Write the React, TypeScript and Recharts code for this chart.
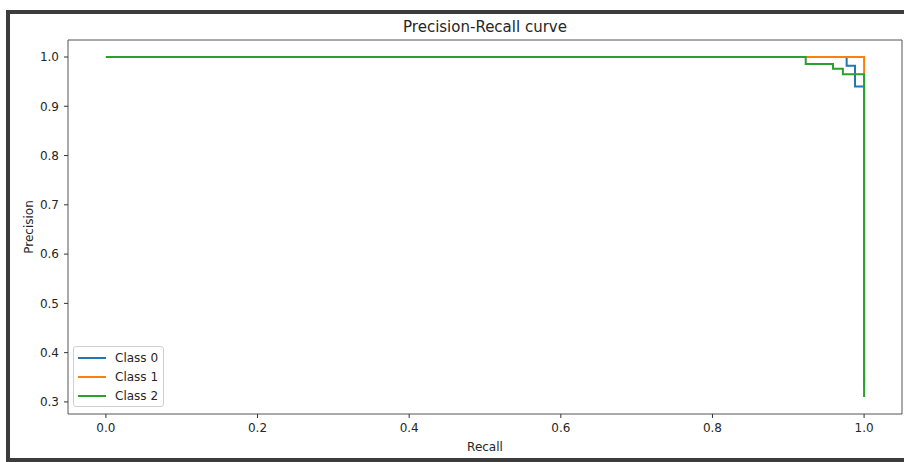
import React from 'react';
import {
  LineChart,
  Line,
  XAxis,
  YAxis,
  Legend,
  ReferenceArea,
  Label,
} from 'recharts';

// PR curve points (recall ascending)
const recallClass0 = [0, 0.977, 0.988, 1.0];
const precisionClass0 = [1.0, 0.982, 0.94, 0.34];
const recallClass1 = [0, 1.0];
const precisionClass1 = [1.0, 0.33];
const recallClass2 = [0, 0.923, 0.959, 0.972, 1.0];
const precisionClass2 = [1.0, 0.986, 0.976, 0.965, 0.31];

const classNames = ['Class 0', 'Class 1', 'Class 2'];
const classColors = ['#1f77b4', '#ff7f0e', '#2ca02c'];
const xTicks = [0, 0.2, 0.4, 0.6, 0.8, 1.0];
const yTicks = [0.3, 0.4, 0.5, 0.6, 0.7, 0.8, 0.9, 1.0];

const toRows = (recall: number[], precision: number[]) =>
  recall.map((r, i) => ({ recall: r, precision: precision[i] }));

const series = [
  toRows(recallClass0, precisionClass0),
  toRows(recallClass1, precisionClass1),
  toRows(recallClass2, precisionClass2),
];

const FONT = '"DejaVu Sans", sans-serif';
const TEXT = '#262626';

const LegendBox = () => (
  <div
    style={{
      border: '1px solid #d0d0d0',
      borderRadius: 3,
      background: 'white',
      padding: '1px 5px 1px 4px',
      fontFamily: FONT,
      fontSize: 12,
      color: TEXT,
    }}
  >
    {classNames.map((name, i) => (
      <div key={name} style={{ display: 'flex', alignItems: 'center', height: 19 }}>
        <svg width={28} height={4} style={{ marginRight: 9 }}>
          <line x1={0} y1={2} x2={28} y2={2} stroke={classColors[i]} strokeWidth={2} />
        </svg>
        <span>{name}</span>
      </div>
    ))}
  </div>
);

export default function App() {
  return (
    <div style={{ position: 'absolute', left: 0, top: 0, width: 904, height: 462, background: 'white' }}>
      <div
        style={{
          position: 'absolute',
          left: 0,
          top: 18,
          width: 904,
          textAlign: 'center',
          paddingLeft: 66,
          boxSizing: 'border-box',
          fontFamily: FONT,
          fontSize: 15,
          color: TEXT,
        }}
      >
        Precision-Recall curve
      </div>
      <LineChart
        width={904}
        height={462}
        margin={{ top: 40, right: 2, bottom: 0, left: 0 }}
        style={{ position: 'absolute', left: 0, top: 0 }}
      >
        <XAxis
          dataKey="recall"
          type="number"
          domain={[-0.05, 1.05]}
          ticks={xTicks}
          tickFormatter={(v: number) => v.toFixed(1)}
          allowDataOverflow
          axisLine={false}
          tickSize={4}
          tickMargin={5}
          tickLine={{ stroke: '#333' }}
          tick={{ fill: TEXT, fontSize: 12, fontFamily: FONT }}
          height={48}
        >
          <Label
            value="Recall"
            position="insideBottom"
            offset={11}
            style={{ fill: TEXT, fontSize: 12, fontFamily: FONT }}
          />
        </XAxis>
        <YAxis
          type="number"
          domain={[0.2755, 1.0345]}
          ticks={yTicks}
          tickFormatter={(v: number) => v.toFixed(1)}
          allowDataOverflow
          axisLine={false}
          tickSize={4}
          tickMargin={5}
          tickLine={{ stroke: '#333' }}
          tick={{ fill: TEXT, fontSize: 12, fontFamily: FONT }}
          width={68}
        >
          <Label
            value="Precision"
            angle={-90}
            position="insideLeft"
            offset={29}
            style={{ fill: TEXT, fontSize: 12, fontFamily: FONT, textAnchor: 'middle' }}
          />
        </YAxis>
        <ReferenceArea
          x1={-0.05}
          x2={1.05}
          y1={0.2755}
          y2={1.0345}
          fill="none"
          fillOpacity={0}
          stroke="#555"
          strokeWidth={1}
          ifOverflow="visible"
        />
        {series.map((rows, i) => (
          <Line
            key={classNames[i]}
            data={rows}
            dataKey="precision"
            name={classNames[i]}
            type="stepAfter"
            stroke={classColors[i]}
            strokeWidth={2}
            dot={false}
            activeDot={false}
            isAnimationActive={false}
          />
        ))}
        <Legend
          layout="horizontal"
          verticalAlign="middle"
          content={() => <LegendBox />}
          wrapperStyle={{ left: 73, top: 346, width: 'auto' }}
        />
      </LineChart>
      {/* dark screenshot frame */}
      <div style={{ position: 'absolute', left: 6, top: 10, width: 898, height: 4, background: '#3c3c3c' }} />
      <div style={{ position: 'absolute', left: 6, top: 10, width: 4, height: 452, background: '#3c3c3c' }} />
      <div style={{ position: 'absolute', left: 6, top: 458, width: 898, height: 4, background: '#3c3c3c' }} />
    </div>
  );
}
